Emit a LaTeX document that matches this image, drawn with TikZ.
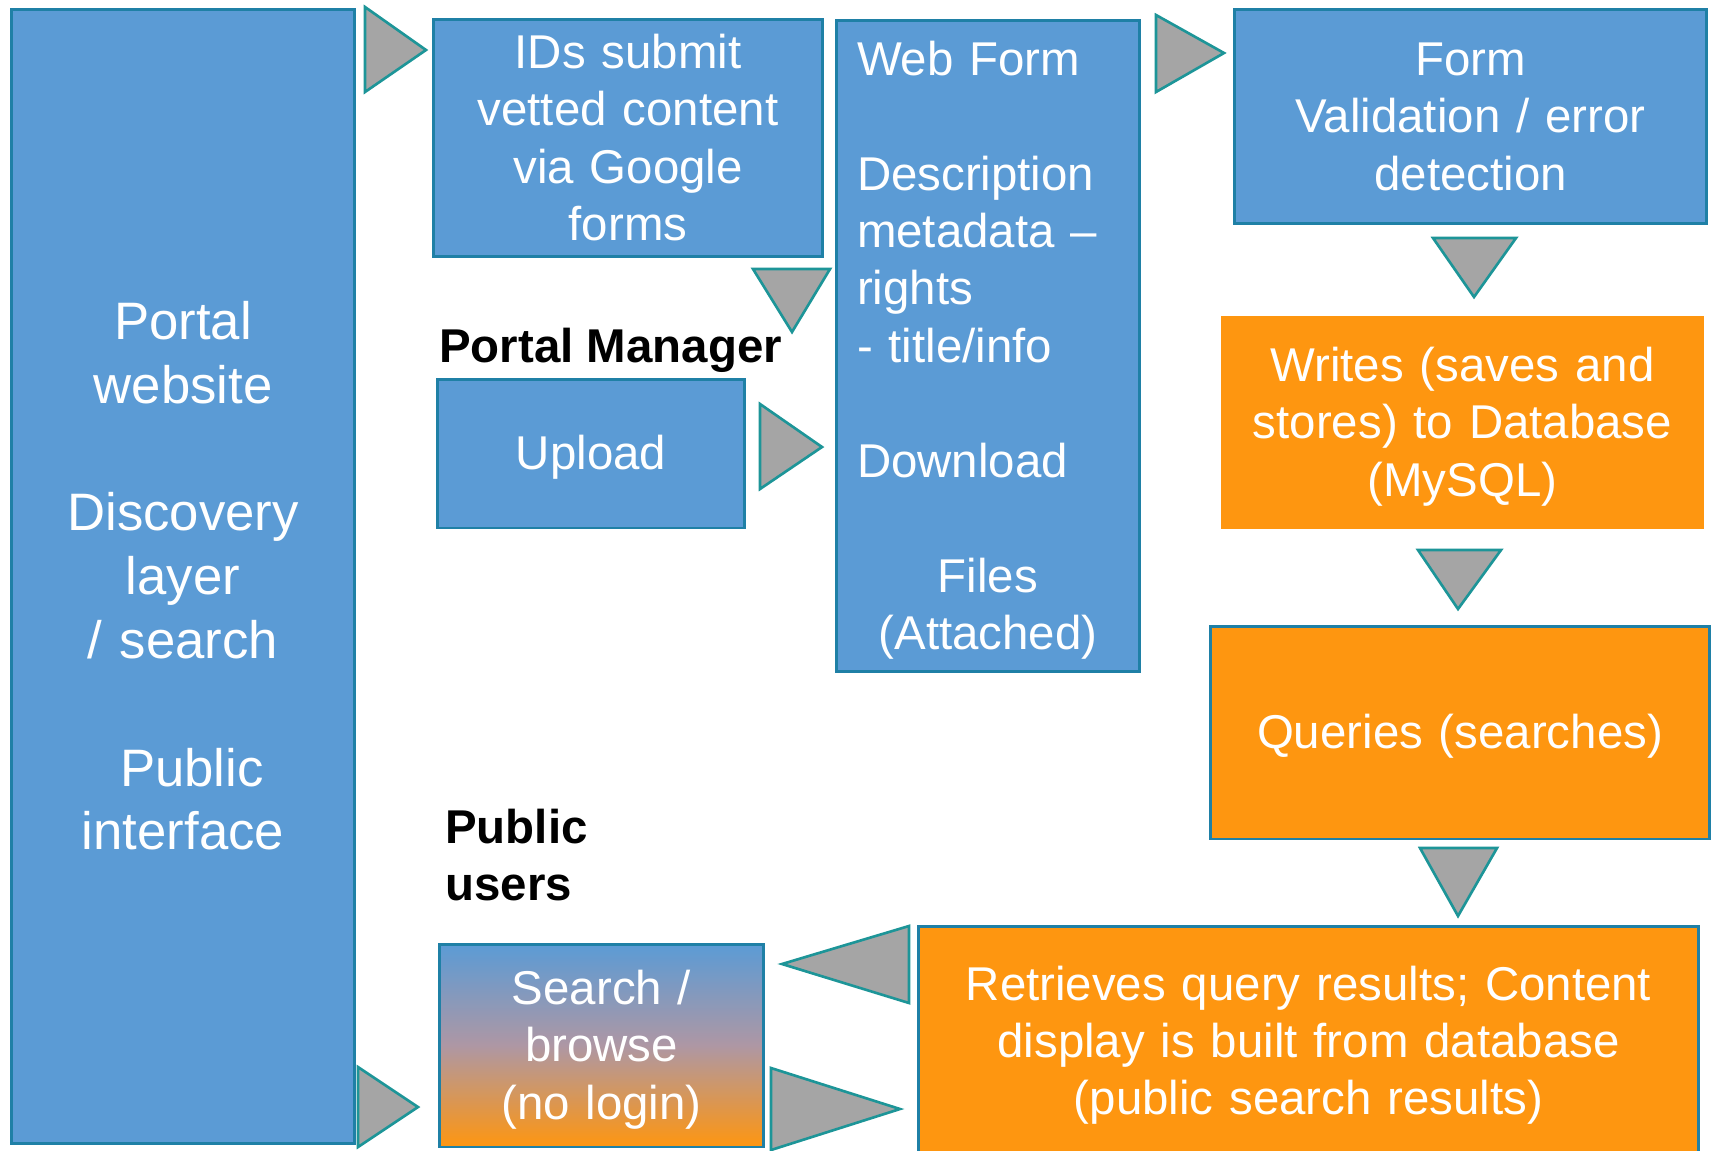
\documentclass[tikz,border=0pt]{standalone}
\usepackage{fontspec}
\setmainfont{Liberation Sans}
\definecolor{boxblue}{HTML}{5B9BD5}
\definecolor{boxline}{HTML}{1F80A6}
\definecolor{triline}{HTML}{1D9598}
\definecolor{trigray}{HTML}{A5A5A5}
\definecolor{dborange}{HTML}{FE9610}
\definecolor{midmauve}{HTML}{AE97A4}
\newcommand\linestrut{\rule[-0.212em]{0pt}{1.117em}}
\tikzset{
  box/.style={draw=boxline, line width=1.7pt, fill=boxblue, text=white,
    align=center, inner sep=0pt, font=\fontsize{27}{32.7}\selectfont,
    execute at begin node=\linestrut, execute at end node=\linestrut},
  boxsize/.style 2 args={minimum width=#1, minimum height=#2, text width=#1-0.3cm},
  dbbox/.style={box, fill=dborange},
  tri/.style={draw=triline, fill=trigray, line width=1.5pt},
  who/.style={anchor=west, align=left, inner sep=0pt,
    font=\bfseries\fontsize{27}{32.7}\selectfont}
}
\begin{document}
\begin{tikzpicture}[x=0.02cm,y=-0.02cm]
   \useasboundingbox[fill=white] (0,0) rectangle (1713,1150);

   % left column
   \node[box, boxsize={6.88cm}{22.7cm},
         font=\fontsize{30}{36.3}\selectfont] (portal) at (183,576.5)
        {Portal\\website\\ \mbox{}\\Discovery\\layer\\/ search\\ \mbox{}\\\mbox{}\ Public\\interface};

   % portal manager
   \node[box, boxsize={7.8cm}{4.76cm}] (ids) at (628,138)
        {IDs submit\\vetted content\\via Google\\forms};
   \node[who] (manager) at (439,350) {Portal Manager};
   \node[box, boxsize={6.16cm}{2.98cm}] (upload) at (591,453.5) {Upload};
   \node[box, align=left, text width=5.24cm, inner xsep=0.42cm,
         minimum width=6.08cm, minimum height=13.04cm] (webform) at (988,346)
        {Web Form\\ \mbox{}\\Description\\metadata --\\rights\\- title/info\\ \mbox{}\\Download\\ \mbox{}\\
         \makebox[\hsize]{Files}\\\makebox[\hsize]{(Attached)}};

   % database side
   \node[box, boxsize={9.46cm}{4.3cm}] (formcheck) at (1470.5,116.5)
        {Form\\Validation / error\\detection};
   \node[dbbox, draw=none, boxsize={9.66cm}{4.26cm}] (writes) at (1462.5,422.5)
        {Writes (saves and\\stores) to Database\\(MySQL)};
   \node[dbbox, boxsize={10cm}{4.26cm}] (queries) at (1460,732.5)
        {Queries (searches)};
   \node[dbbox, boxsize={15.62cm}{4.6cm}] (retrieves) at (1308.5,1041)
        {Retrieves query results; Content\\display is built from database\\(public search results)};

   % public users
   \node[who] (users) at (445,855) {Public\\users};
   \node[box, top color=boxblue, bottom color=dborange, middle color=midmauve,
         boxsize={6.5cm}{4.06cm}] (search) at (601.5,1045.5)
        {Search /\\browse\\(no login)};

   % triangles
   \foreach \ax/\ay/\bx/\by/\cx/\cy in {365/7/365/92/426/50,
       753/269/830/269/792/332, 760/404/760/489/822/447,
       1156/15/1156/92/1224/53, 1433/238/1516/238/1474/297,
       1418/550/1501/550/1458/609, 1420/848/1497/848/1458/916,
       909/926/909/1003/782/964, 358/1067/358/1147/418/1107,
       771/1068/771/1150/900/1109}
   {
       \draw[tri] (\ax,\ay) -- (\bx,\by) -- (\cx,\cy) -- cycle;
   }
\end{tikzpicture}
\end{document}
